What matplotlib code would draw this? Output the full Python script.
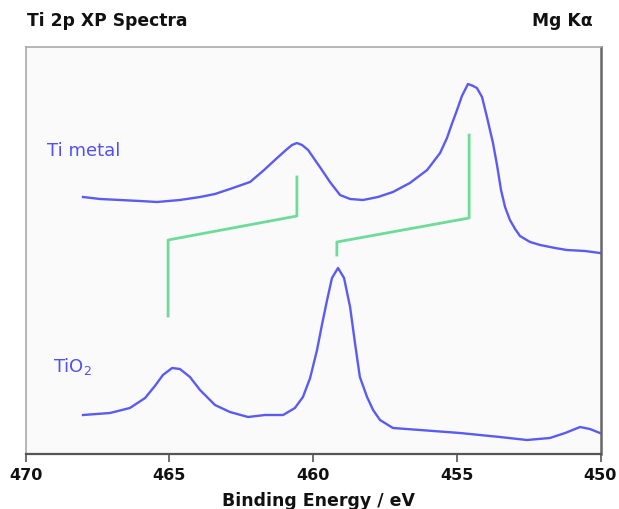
import matplotlib
matplotlib.use("Agg")
import matplotlib.pyplot as plt

# Binding energy (eV) and intensity (arb. units)
ti_metal_be = [468.00, 467.41, 466.71, 466.02, 465.43, 464.63, 463.93, 463.41, 462.89,
               462.19, 461.74, 461.25, 460.90, 460.73, 460.56, 460.38, 460.17, 459.93,
               459.69, 459.41, 459.06, 458.71, 458.26, 457.74, 457.22, 456.63, 456.03,
               455.58, 455.34, 455.17, 454.99, 454.82, 454.61, 454.43, 454.30, 454.12,
               453.95, 453.74, 453.60, 453.46, 453.32, 453.15, 452.97, 452.80, 452.45,
               452.10, 451.58, 451.17, 450.54, 450.02]
ti_metal_int = [257, 255, 254, 253, 252, 254, 257, 260, 265,
                272, 283, 296, 305, 309, 311, 309, 304, 294,
                284, 272, 259, 255, 254, 257, 262, 271, 284,
                301, 316, 330, 344, 358, 370, 368, 366, 357,
                337, 311, 289, 264, 247, 234, 225, 218, 212,
                209, 206, 204, 203, 201]

tio2_be = [468.00, 467.06, 466.37, 465.84, 465.50, 465.22, 464.90, 464.63, 464.28,
           463.93, 463.41, 462.89, 462.26, 461.67, 461.04, 460.63, 460.35, 460.10,
           459.86, 459.69, 459.51, 459.34, 459.13, 458.92, 458.71, 458.54, 458.37,
           458.12, 457.91, 457.67, 457.22, 456.28, 454.89, 453.50, 452.56, 451.76,
           451.23, 450.71, 450.37, 450.02]
tio2_int = [39, 41, 46, 56, 68, 79, 86, 85, 77,
            64, 49, 42, 37, 39, 39, 46, 57, 76,
            104, 129, 154, 176, 186, 176, 147, 111, 77,
            57, 44, 34, 26, 24, 21, 17, 14, 16,
            21, 27, 25, 21]

# Peak-correlation markers (eV, intensity)
ti_marker_be = [460.56, 460.56, 465.04, 465.04]
ti_marker_int = [277, 238, 214, 138]
ti2_marker_be = [454.57, 454.57, 459.17, 459.17]
ti2_marker_int = [319, 236, 212, 199]

xticks = [470, 465, 460, 455, 450]

fig = plt.figure(figsize=(6.19, 5.09), dpi=100)
ax = fig.add_axes([25.5 / 619, 55 / 509, 575 / 619, 407.5 / 509])
ax.set_facecolor("#fafafa")

blue = "#5b5bf3"
green = "#6ddc9a"
ax.plot(ti_metal_be, ti_metal_int, color=blue, lw=1.7)
ax.plot(tio2_be, tio2_int, color=blue, lw=1.7)
ax.plot(ti_marker_be, ti_marker_int, color=green, lw=2)
ax.plot(ti2_marker_be, ti2_marker_int, color=green, lw=2)

ax.set_xlim(470, 450)
ax.set_ylim(0, 407.5)
ax.set_xticks(xticks)
ax.set_xticklabels([str(t) for t in xticks], fontweight="bold", fontsize=11.5,
                   family="DejaVu Sans", color="#111111")
ax.set_yticks([])
ax.tick_params(axis="x", direction="out", length=6, width=1.2, color="#555555", pad=4)

for s in ["top", "left"]:
    ax.spines[s].set_color("#aaaaaa")
    ax.spines[s].set_linewidth(1.2)
ax.spines["right"].set_color("#666666")
ax.spines["right"].set_linewidth(1.8)
ax.spines["bottom"].set_color("#555555")
ax.spines["bottom"].set_linewidth(1.6)

fig.text(0.5 * (25.5 + 612) / 619, (509 - 505.5) / 509, "Binding Energy / eV",
         fontweight="bold", fontsize=12.5, family="DejaVu Sans", ha="center",
         va="baseline", color="#111111")

fig.text(47 / 619, (509 - 156) / 509, "Ti metal", color="#5050f5", fontsize=13,
         family="DejaVu Sans", va="baseline")
fig.text(53 / 619, (509 - 372) / 509, "TiO$_2$", color="#5050f5", fontsize=13,
         family="DejaVu Sans", va="baseline")

fig.text(27 / 619, (509 - 26.5) / 509, "Ti 2p XP Spectra", fontsize=12.3,
         fontweight="bold", family="DejaVu Sans", va="baseline", color="#111111")
fig.text(593 / 619, (509 - 26.5) / 509, "Mg Kα", fontsize=12.3, fontweight="bold",
         family="DejaVu Sans", va="baseline", ha="right", color="#111111")

fig.savefig("out.png", dpi=100, facecolor="white")
